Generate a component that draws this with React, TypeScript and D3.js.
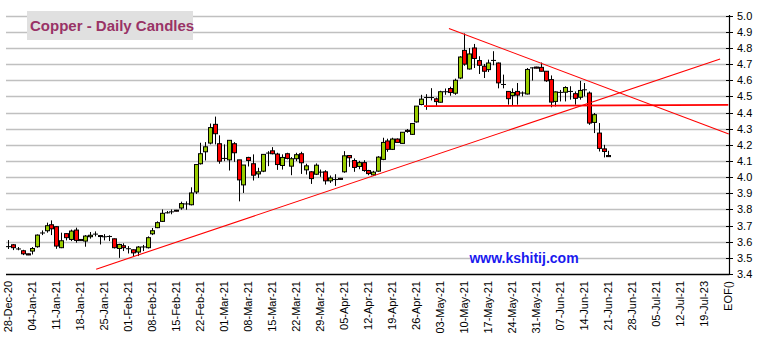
import React from "react";
import * as d3 from "d3";

const weekLabels = ["28-Dec-20","04-Jan-21","11-Jan-21","18-Jan-21","25-Jan-21","01-Feb-21","08-Feb-21","15-Feb-21","22-Feb-21","01-Mar-21","08-Mar-21","15-Mar-21","22-Mar-21","29-Mar-21","05-Apr-21","12-Apr-21","19-Apr-21","26-Apr-21","03-May-21","10-May-21","17-May-21","24-May-21","31-May-21","07-Jun-21","14-Jun-21","21-Jun-21","28-Jun-21","05-Jul-21","12-Jul-21","19-Jul-23","EOF()"];

const yTicks = [3.4,3.5,3.6,3.7,3.8,3.9,4.0,4.1,4.2,4.3,4.4,4.5,4.6,4.7,4.8,4.9,5.0];

const opens = [3.569,3.581,3.554,3.544,3.525,3.542,3.569,3.653,3.668,3.705,3.693,3.563,3.65,3.614,3.672,3.614,3.604,3.631,3.646,3.638,3.63,3.633,3.618,3.558,3.575,3.556,3.55,3.536,3.567,3.563,3.649,3.687,3.726,3.778,3.784,3.795,3.809,3.833,3.829,3.908,4.083,4.157,4.211,4.327,4.207,4.115,4.107,4.207,4.107,3.952,4.122,4.083,4.02,4.037,4.148,4.163,4.143,4.072,4.145,4.068,4.114,4.145,4.045,4.033,4.018,4.03,4.033,3.977,3.984,3.993,4.033,4.134,4.103,4.066,4.09,4.041,4.014,4.037,4.11,4.224,4.172,4.236,4.209,4.29,4.265,4.342,4.45,4.492,4.492,4.485,4.464,4.528,4.549,4.52,4.614,4.785,4.67,4.8,4.722,4.687,4.666,4.722,4.707,4.573,4.531,4.505,4.531,4.52,4.515,4.676,4.682,4.68,4.656,4.604,4.469,4.524,4.526,4.53,4.517,4.495,4.54,4.521,4.339,4.273,4.175,4.134];
const highs = [3.61,3.585,3.567,3.55,3.526,3.567,3.645,3.67,3.718,3.732,3.695,3.656,3.652,3.675,3.687,3.616,3.641,3.66,3.664,3.64,3.647,3.64,3.62,3.587,3.59,3.573,3.552,3.573,3.58,3.633,3.685,3.726,3.8,3.79,3.8,3.797,3.848,3.85,3.937,4.08,4.213,4.217,4.332,4.375,4.259,4.203,4.228,4.217,4.107,4.075,4.126,4.141,4.058,4.141,4.161,4.186,4.151,4.141,4.151,4.124,4.151,4.157,4.083,4.037,4.085,4.047,4.043,4.01,4.018,3.995,4.161,4.134,4.116,4.101,4.105,4.045,4.039,4.13,4.244,4.238,4.244,4.24,4.278,4.298,4.332,4.44,4.51,4.514,4.551,4.493,4.535,4.549,4.56,4.61,4.749,4.89,4.8,4.825,4.749,4.701,4.728,4.78,4.71,4.635,4.533,4.55,4.583,4.531,4.676,4.68,4.684,4.71,4.656,4.63,4.531,4.54,4.563,4.563,4.531,4.596,4.583,4.531,4.397,4.335,4.2,4.163];
const lows = [3.555,3.548,3.547,3.517,3.517,3.521,3.563,3.641,3.656,3.641,3.556,3.56,3.608,3.604,3.594,3.606,3.569,3.619,3.633,3.583,3.608,3.604,3.558,3.5,3.542,3.527,3.508,3.511,3.542,3.558,3.641,3.684,3.722,3.775,3.77,3.788,3.798,3.798,3.825,3.896,4.078,4.103,4.203,4.203,4.083,4.099,4.041,4.095,3.85,3.902,4.066,3.979,3.995,4.031,4.068,4.141,4.045,4.047,4.11,4.012,4.099,4.02,4.016,3.958,4.013,4.002,3.954,3.964,3.946,3.985,4.027,4.064,4.033,4.049,4.033,4.012,4.008,4.033,4.105,4.157,4.168,4.215,4.209,4.275,4.261,4.338,4.445,4.417,4.475,4.441,4.462,4.51,4.504,4.51,4.607,4.69,4.666,4.676,4.639,4.614,4.651,4.693,4.55,4.55,4.449,4.445,4.449,4.5,4.512,4.598,4.674,4.655,4.59,4.433,4.438,4.469,4.469,4.48,4.449,4.48,4.5,4.324,4.273,4.159,4.122,4.126];
const closes = [3.57,3.563,3.556,3.525,3.518,3.558,3.641,3.655,3.699,3.68,3.573,3.606,3.625,3.666,3.608,3.607,3.635,3.64,3.648,3.632,3.631,3.632,3.563,3.583,3.563,3.557,3.531,3.567,3.568,3.625,3.668,3.718,3.776,3.78,3.786,3.789,3.836,3.835,3.902,4.078,4.145,4.188,4.307,4.269,4.099,4.117,4.228,4.151,3.983,4.075,4.103,4.012,4.033,4.141,4.15,4.145,4.078,4.122,4.116,4.114,4.139,4.089,4.07,3.991,4.074,4.032,3.977,3.995,3.986,3.986,4.132,4.12,4.06,4.09,4.041,4.022,4.031,4.124,4.215,4.172,4.236,4.215,4.278,4.283,4.332,4.44,4.483,4.494,4.494,4.468,4.529,4.53,4.524,4.6,4.744,4.7,4.763,4.735,4.693,4.656,4.707,4.724,4.584,4.575,4.486,4.524,4.508,4.522,4.667,4.678,4.675,4.656,4.597,4.465,4.528,4.526,4.555,4.532,4.488,4.537,4.542,4.335,4.387,4.178,4.159,4.127];

// trend lines: [day index, price]
const risingLine = [[18.3, 3.43], [148.3, 4.732]];
const fallingLine = [[91.8, 4.921], [150.1, 4.267]];
const flatLine = [[86.6, 4.44], [150.0, 4.447]];

const W = 758, H = 340;
const FONT = "'Liberation Sans', Arial, Helvetica, sans-serif";

export default function App() {
  const x = d3.scaleLinear().domain([0, 150]).range([8.3, 8.3 + 150 * 4.8]);
  const y = d3.scaleLinear().domain([3.4, 5.0]).range([274, 15.7]);
  const left = 6, right = 729;
  const line = d3.line<number[]>().x(d => x(d[0])).y(d => y(d[1]));

  const candles = opens.map((o, i) => {
    const c = closes[i];
    const cx = Math.round(x(i)) + 0.5;
    const yO = y(o), yC = y(c);
    const top = Math.min(yO, yC), bot = Math.max(yO, yC);
    const h = bot - top;
    const up = c >= o;
    return (
      <g key={i}>
        <line x1={cx} x2={cx} y1={y(highs[i])} y2={y(lows[i])} stroke="#000" strokeWidth={1} />
        {h < 0.9 ? (
          <line x1={cx - 2.5} x2={cx + 2.5} y1={(yO + yC) / 2} y2={(yO + yC) / 2} stroke="#000" strokeWidth={1} />
        ) : (
          <rect x={cx - 2} y={top} width={4} height={h} fill={up ? "#99cc00" : "#ff0000"} stroke="#000" strokeWidth={1} />
        )}
      </g>
    );
  });

  return (
    <svg width={W} height={H} style={{ position: "absolute", left: 0, top: 0, background: "#fff" }} fontFamily={FONT}>
      <rect x={0} y={0} width={W} height={H} fill="#fff" />
      {yTicks.filter(t => t > 3.45).map(t => (
        <line key={"g" + t} x1={left} x2={right} y1={Math.round(y(t)) + 0.5} y2={Math.round(y(t)) + 0.5} stroke="#c0c0c0" strokeWidth={1.3} />
      ))}
      <rect x={27} y={11} width={166} height={29} fill="#e0e0e0" />
      <text x={30} y={31} fontSize={15} fontWeight="bold" fill="#993366">Copper - Daily Candles</text>
      <rect x={470} y={250} width={108} height={16} fill="#fff" />
      <text x={524} y={263} textAnchor="middle" fontSize={14} fontWeight="bold" fill="#1a1aee">www.kshitij.com</text>
      {candles}
      <path d={line(risingLine as any) || ""} stroke="#ff0000" strokeWidth={1.1} fill="none" />
      <path d={line(fallingLine as any) || ""} stroke="#ff0000" strokeWidth={1.1} fill="none" />
      <path d={line(flatLine as any) || ""} stroke="#ff0000" strokeWidth={1.8} fill="none" />
      <line x1={left} x2={right + 0.5} y1={274.5} y2={274.5} stroke="#000" strokeWidth={1.5} />
      <line x1={right + 0.5} x2={right + 0.5} y1={15} y2={275} stroke="#000" strokeWidth={1.2} />
      {yTicks.map(t => (
        <g key={"t" + t}>
          <line x1={right - 3} x2={right + 4} y1={Math.round(y(t)) + 0.5} y2={Math.round(y(t)) + 0.5} stroke="#000" strokeWidth={1} />
          <text x={737} y={y(t) + 4} fontSize={11} fill="#000">{t.toFixed(1)}</text>
        </g>
      ))}
      {weekLabels.map((lab, w) => (
        <text key={lab} transform={`translate(${x(w * 5) + 4},281) rotate(-90)`} textAnchor="end" fontSize={11} fill="#000">{lab}</text>
      ))}
    </svg>
  );
}
